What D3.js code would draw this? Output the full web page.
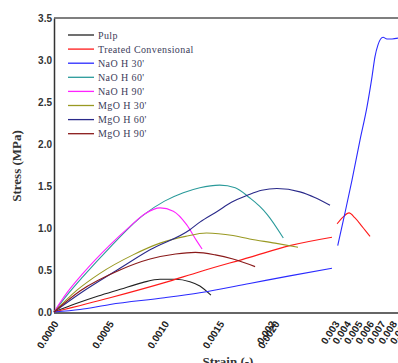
<!DOCTYPE html>
<html>
<head>
<meta charset="utf-8">
<script src="https://cdn.jsdelivr.net/npm/d3@7"></script>
<style>
  body { margin: 0; background: #fff; }
  svg { display: block; }
</style>
</head>
<body>
<div id="chart"></div>
<script>
// series names, in legend order
const seriesNames = ['Pulp', 'Treated Convensional', 'NaO H 30\'', 'NaO H 60\'', 'NaO H 90\'', 'MgO H 30\'', 'MgO H 60\'', 'MgO H 90\'']
const seriesColors = ['#222222', '#ff1a1a', '#2a2aff', '#2a9a9a', '#ff22ff', '#999922', '#2a2a8a', '#8a1a1a']

// strain (-) / stress (MPa), null marks a gap in the curve
const pulpStrain = [0, 0.0002, 0.0004, 0.0006, 0.0008, 0.00096, 0.0011, 0.00123, 0.00132, 0.00142]
const pulpStress = [0, 0.1, 0.19, 0.27, 0.35, 0.39, 0.39, 0.36, 0.31, 0.2]

const treatedStrain = [0, 0.000507, 0.001, 0.00132, 0.00177, 0.00223, 0.00289, null, 0.00297, 0.00335, 0.00387, 0.00439, 0.005, 0.0057]
const treatedStress = [0, 0.17, 0.35, 0.48, 0.65, 0.79, 0.89, null, 1.05, 1.13, 1.18, 1.12, 1.02, 0.9]

const naoh30Strain = [0, 0.000235, 0.000507, 0.001, 0.00132, 0.00177, 0.00223, 0.00289, null, 0.00298, 0.00352, 0.00413, 0.00483, 0.00543, 0.00587, 0.00613, 0.00639, 0.00683, 0.00717, 0.00761, 0.00813]
const naoh30Stress = [0, 0.03, 0.09, 0.17, 0.23, 0.34, 0.43, 0.52, null, 0.79, 1.18, 1.57, 2.05, 2.44, 2.8, 3.04, 3.18, 3.27, 3.25, 3.25, 3.26]

const naoh60Strain = [0, 0.000118, 0.000262, 0.000507, 0.000805, 0.001, 0.00117, 0.00132, 0.0015, 0.00164, 0.00177, 0.00186, 0.00193, 0.00213]
const naoh60Stress = [0, 0.2, 0.42, 0.77, 1.15, 1.32, 1.42, 1.48, 1.51, 1.48, 1.36, 1.26, 1.16, 0.88]

const naoh90Strain = [0, 0.000118, 0.000262, 0.000507, 0.000688, 0.000824, 0.00096, 0.00108, 0.0012, 0.00129, 0.00134]
const naoh90Stress = [0, 0.23, 0.46, 0.8, 1.02, 1.17, 1.24, 1.2, 1.04, 0.85, 0.75]

const mgoh30Strain = [0, 0.000208, 0.000416, 0.000715, 0.00096, 0.00119, 0.00138, 0.00162, 0.00177, 0.002, 0.00236]
const mgoh30Stress = [0, 0.26, 0.46, 0.68, 0.82, 0.9, 0.94, 0.91, 0.87, 0.82, 0.77]

const mgoh60Strain = [0, 0.000235, 0.000597, 0.000869, 0.00123, 0.00132, 0.00148, 0.00161, 0.00175, 0.00188, 0.00203, 0.00239, 0.00263, 0.00286]
const mgoh60Stress = [0, 0.22, 0.52, 0.74, 0.98, 1.07, 1.2, 1.31, 1.39, 1.45, 1.47, 1.43, 1.36, 1.27]

const mgoh90Strain = [0, 0.000235, 0.000597, 0.000869, 0.0011, 0.00128, 0.00146, 0.00162, 0.00182]
const mgoh90Stress = [0, 0.25, 0.5, 0.63, 0.69, 0.71, 0.68, 0.63, 0.54]

// axis ticks
const yTicks = [0, 0.5, 1.0, 1.5, 2.0, 2.5, 3.0, 3.5]
const xTicksMain = [0, 0.0005, 0.001, 0.0015, 0.002]
const xTicksTail = [0.002, 0.003, 0.004, 0.005, 0.006, 0.007, 0.008, 0.009]

const strains = [pulpStrain, treatedStrain, naoh30Strain, naoh60Strain, naoh90Strain, mgoh30Strain, mgoh60Strain, mgoh90Strain]
const stresses = [pulpStress, treatedStress, naoh30Stress, naoh60Stress, naoh90Stress, mgoh30Stress, mgoh60Stress, mgoh90Stress]

const series = seriesNames.map((name, i) => ({
  name,
  color: seriesColors[i],
  values: strains[i].map((s, j) => ({ x: s, y: stresses[i][j] }))
}))

const width = 398
const height = 363

const svg = d3.select('#chart').append('svg')
  .attr('width', width)
  .attr('height', height)

// broken strain axis: linear to 0.002, then squeezed
const x = d3.scaleLinear()
  .domain([0, 0.002, 0.003, 0.009])
  .range([54, 275, 339, 408])

const y = d3.scaleLinear()
  .domain([0, 3.5])
  .range([312, 18])

const g = svg.append('g')

// y axis
const yAxis = d3.axisLeft(y)
  .tickValues(yTicks)
  .tickFormat(d3.format('.1f'))
  .tickSize(0)
  .tickPadding(2)

g.append('g')
  .attr('transform', 'translate(54,0)')
  .call(yAxis)
  .call(a => a.select('.domain').attr('stroke', '#333').attr('stroke-width', 1.5))
  .selectAll('text')
  .attr('font-family', 'Liberation Sans, Arial, sans-serif')
  .attr('font-weight', 'bold')
  .attr('font-size', 10)
  .attr('fill', '#333')

// top frame line
g.append('line')
  .attr('x1', 54).attr('x2', width)
  .attr('y1', y(3.5)).attr('y2', y(3.5))
  .attr('stroke', '#555')
  .attr('stroke-width', 1.5)

// x axis line
g.append('line')
  .attr('x1', 54).attr('x2', width)
  .attr('y1', 313).attr('y2', 313)
  .attr('stroke', '#666')
  .attr('stroke-width', 2)

// x tick labels, rotated
function xLabels (ticks, fmt, shift) {
  g.append('g').selectAll('text')
    .data(ticks)
    .enter().append('text')
    .attr('transform', d => `translate(${x(d) + shift},322) rotate(-57)`)
    .attr('text-anchor', 'end')
    .attr('dy', '0.35em')
    .attr('font-family', 'Liberation Sans, Arial, sans-serif')
    .attr('font-weight', 'bold')
    .attr('font-size', 10)
    .attr('fill', '#222')
    .text(d => fmt(d))
}
xLabels(xTicksMain, d3.format('.4f'), 2)
xLabels(xTicksTail, d3.format('.3f'), -2)

// axis titles
g.append('text')
  .attr('transform', 'translate(21,166) rotate(-90)')
  .attr('text-anchor', 'middle')
  .attr('font-family', 'Liberation Serif, Times New Roman, serif')
  .attr('font-weight', 'bold')
  .attr('font-size', 13)
  .attr('fill', '#333')
  .text('Stress (MPa)')

g.append('text')
  .attr('x', 228)
  .attr('y', 366)
  .attr('text-anchor', 'middle')
  .attr('font-family', 'Liberation Serif, Times New Roman, serif')
  .attr('font-weight', 'bold')
  .attr('font-size', 13)
  .attr('fill', '#333')
  .text('Strain (-)')

// curves
const line = d3.line()
  .defined(d => d.x !== null)
  .x(d => x(d.x))
  .y(d => y(d.y))
  .curve(d3.curveMonotoneX)

g.append('g').selectAll('path')
  .data(series)
  .enter().append('path')
  .attr('d', d => line(d.values))
  .attr('fill', 'none')
  .attr('stroke', d => d.color)
  .attr('stroke-width', 1.1)

// legend
const legend = g.append('g')
  .attr('transform', 'translate(68,35)')

const rows = legend.selectAll('g')
  .data(series)
  .enter().append('g')
  .attr('transform', (d, i) => `translate(0,${i * 14.1})`)

rows.append('line')
  .attr('x1', 0).attr('x2', 26)
  .attr('stroke', d => d.color)
  .attr('stroke-width', 1.3)

rows.append('text')
  .attr('x', 30)
  .attr('dy', '0.35em')
  .attr('font-family', 'Liberation Serif, Times New Roman, serif')
  .attr('font-size', 10)
  .attr('letter-spacing', 0.4)
  .attr('fill', '#3c3c5a')
  .text(d => d.name)
</script>
</body>
</html>
